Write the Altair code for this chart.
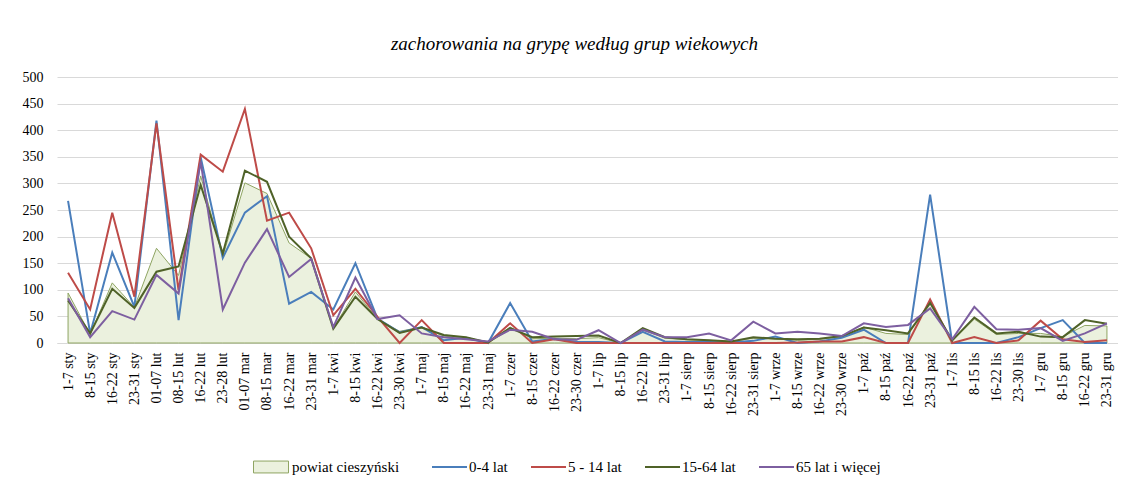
import altair as alt
import pandas as pd

weeks = [
    "1-7 sty", "8-15 sty", "16-22 sty", "23-31 sty",
    "01-07 lut", "08-15 lut", "16-22 lut", "23-28 lut",
    "01-07 mar", "08-15 mar", "16-22 mar", "23-31 mar",
    "1-7 kwi", "8-15 kwi", "16-22 kwi", "23-30 kwi",
    "1-7 maj", "8-15 maj", "16-22 maj", "23-31 maj",
    "1-7 czer", "8-15 czer", "16-22 czer", "23-30 czer",
    "1-7 lip", "8-15 lip", "16-22 lip", "23-31 lip",
    "1-7 sierp", "8-15 sierp", "16-22 sierp", "23-31 sierp",
    "1-7 wrze", "8-15 wrze", "16-22 wrze", "23-30 wrze",
    "1-7 paź", "8-15 paź", "16-22 paź", "23-31 paź",
    "1-7 lis", "8-15 lis", "16-22 lis", "23-30 lis",
    "1-7 gru", "8-15 gru", "16-22 gru", "23-31 gru",
]

powiat = [94, 16, 113, 67, 178, 127, 314, 163, 301, 281, 188, 159,
          28, 96, 45, 22, 30, 13, 9, 2, 30, 8, 9, 8,
          10, 0, 25, 9, 6, 5, 3, 9, 8, 5, 7, 12,
          30, 18, 16, 78, 4, 45, 16, 18, 18, 12, 33, 32]

age_0_4 = [267, 18, 170, 68, 418, 43, 349, 160, 245, 276, 74, 96,
           63, 150, 46, 20, 30, 5, 10, 0, 75, 3, 8, 2,
           2, 0, 21, 3, 2, 2, 1, 4, 12, 0, 3, 10,
           25, 0, 0, 279, 0, 0, 0, 11, 28, 43, 0, 0]

age_5_14 = [132, 63, 245, 87, 413, 99, 354, 322, 440, 230, 245, 178,
            52, 102, 49, 0, 43, 0, 0, 0, 37, 0, 7, 0,
            0, 0, 0, 0, 0, 0, 0, 0, 0, 1, 3, 3,
            11, 0, 0, 82, 0, 11, 0, 5, 42, 7, 2, 5]

age_15_64 = [80, 18, 102, 66, 134, 144, 297, 168, 324, 303, 200, 159,
             27, 87, 45, 19, 29, 15, 11, 1, 28, 11, 12, 13,
             14, 0, 28, 11, 7, 5, 3, 11, 8, 7, 8, 13,
             29, 24, 18, 75, 5, 48, 18, 21, 12, 11, 43, 36]

age_65 = [84, 11, 60, 44, 128, 93, 341, 63, 151, 214, 124, 158,
          30, 123, 45, 52, 18, 11, 7, 3, 25, 21, 7, 6,
          24, 0, 25, 11, 11, 18, 5, 40, 18, 21, 18, 13,
          37, 30, 34, 65, 7, 68, 26, 25, 28, 4, 18, 37]

area_name = "powiat cieszyński"
series_names = ["0-4 lat", "5 - 14 lat", "15-64 lat", "65 lat i więcej"]
series_colors = ["#4A7EBB", "#BE4B48", "#4F6228", "#7D5FA0"]
y_ticks = [0, 50, 100, 150, 200, 250, 300, 350, 400, 450, 500]

area_df = pd.DataFrame({"tydzien": weeks, "wartosc": powiat, "seria": area_name})
rows = []
for name, vals in zip(series_names, [age_0_4, age_5_14, age_15_64, age_65]):
    for w, v in zip(weeks, vals):
        rows.append({"tydzien": w, "wartosc": v, "seria": name})
line_df = pd.DataFrame(rows)

FONT = "Liberation Serif"

x_enc = alt.X(
    "tydzien:N",
    sort=weeks,
    scale=alt.Scale(type="point", padding=0.5),
    axis=alt.Axis(
        title=None, labelAngle=270, labelFont=FONT, labelFontSize=14,
        labelColor="#000000", ticks=False, domainColor="#d9d9d9",
        domainWidth=1, labelPadding=9, labelOverlap=False, grid=False,
    ),
)
y_enc = alt.Y(
    "wartosc:Q",
    scale=alt.Scale(domain=[0, 500], nice=False),
    axis=alt.Axis(
        title=None, values=y_ticks, grid=True, gridColor="#d9d9d9",
        gridWidth=1, domain=False, ticks=False, labelPadding=14,
        labelFont=FONT, labelFontSize=14, labelColor="#000000",
    ),
)

area = alt.Chart(area_df).mark_area(
    stroke="#8FA563", strokeWidth=1, opacity=1
).encode(
    x=x_enc,
    y=y_enc,
    fill=alt.Fill(
        "seria:N",
        scale=alt.Scale(domain=[area_name], range=["#EBF1DE"]),
        legend=alt.Legend(
            title=None, orient="none", legendX=196, legendY=382,
            direction="horizontal", symbolType="M-1,-0.34H1V0.34H-1Z",
            symbolSize=1225, symbolStrokeColor="#8FA563",
            symbolStrokeWidth=1, symbolOpacity=1, labelFont=FONT,
            labelFontSize=15, labelColor="#000000", labelOffset=3,
            padding=0, clipHeight=16,
        ),
    ),
)

lines = alt.Chart(line_df).mark_line(strokeWidth=2).encode(
    x=x_enc,
    y=y_enc,
    stroke=alt.Stroke(
        "seria:N",
        sort=series_names,
        scale=alt.Scale(domain=series_names, range=series_colors),
        legend=alt.Legend(
            title=None, orient="none", legendX=374, legendY=382,
            direction="horizontal", symbolType="stroke", symbolSize=1225,
            symbolStrokeWidth=2, columnPadding=22, labelFont=FONT,
            labelFontSize=15, labelColor="#000000", labelOffset=1,
            padding=0, clipHeight=16,
        ),
    ),
)

chart = alt.layer(area, lines).properties(
    width=1061,
    height=266,
    padding={"left": 49, "top": 69, "right": 0, "bottom": 134},
    autosize=alt.AutoSizeParams(type="none"),
    title=alt.Title(
        "zachorowania na grypę według grup wiekowych",
        font=FONT, fontStyle="italic", fontWeight="normal", fontSize=19,
        color="#000000", anchor="middle", frame="group", dx=-13,
        baseline="alphabetic", offset=1,
    ),
).configure_view(stroke=None)

chart.save("out.html", embed_options={"renderer": "svg", "actions": False})
